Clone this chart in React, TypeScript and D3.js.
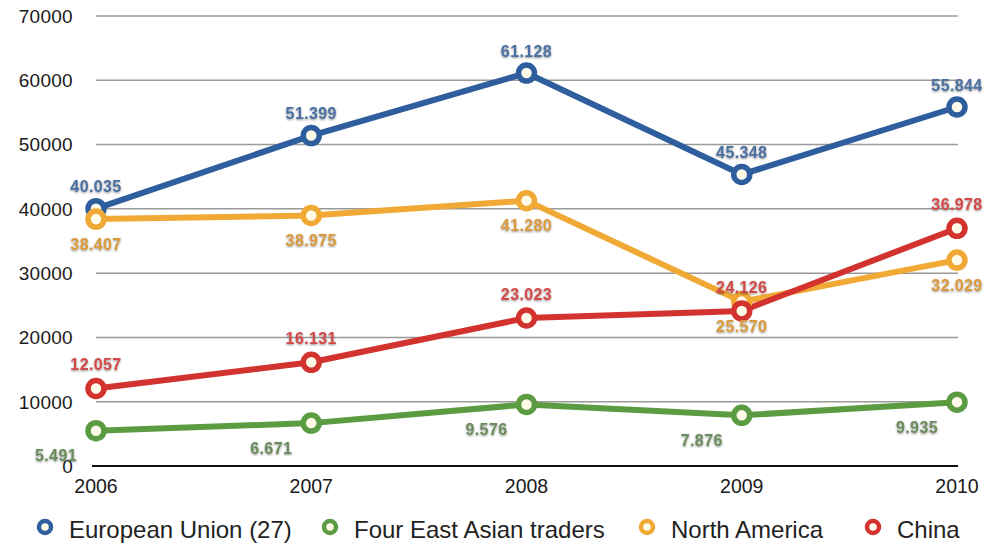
import React from "react";
import * as d3 from "d3";

const years = ["2006", "2007", "2008", "2009", "2010"];
const yTicks = [0, 10000, 20000, 30000, 40000, 50000, 60000, 70000];

const euValues = [40035, 51399, 61128, 45348, 55844];
const eastAsiaValues = [5491, 6671, 9576, 7876, 9935];
const northAmericaValues = [38407, 38975, 41280, 25570, 32029];
const chinaValues = [12057, 16131, 23023, 24126, 36978];

const seriesNames = ["European Union (27)", "Four East Asian traders", "North America", "China"];
const seriesColors = ["#2f5e9e", "#5b9c42", "#f0a935", "#d3332f"];
const labelColors = ["#4a6f9f", "#6a8c5c", "#d99a3c", "#d24a48"];
// label offsets (dx, dy) relative to each point
const labelOffsets: [number, number][] = [[0, -22], [-40, 25], [0, 25], [0, -24]];
const legendX = [45, 330, 647, 873];

const W = 985;
const H = 545;

export default function App() {
  const x = d3.scalePoint<string>().domain(years).range([96, 957]);
  const y = d3.scaleLinear().domain([0, 70000]).range([466, 16]);
  const fmt = d3.formatLocale({ decimal: ",", thousands: ".", grouping: [3], currency: ["", ""] }).format(",d");

  const allValues = [euValues, eastAsiaValues, northAmericaValues, chinaValues];
  const line = d3
    .line<number>()
    .x((_, i) => x(years[i]) as number)
    .y((d) => y(d));

  const font = "'Liberation Sans', Arial, Helvetica, sans-serif";

  return (
    <svg width={W} height={H} style={{ position: "absolute", left: 0, top: 0, background: "#fff" }} fontFamily={font}>
      <defs>
        <filter id="lblShadow" x="-20%" y="-40%" width="140%" height="180%">
          <feDropShadow dx="0" dy="1" stdDeviation="1" floodColor="#000" floodOpacity="0.45" />
        </filter>
        <filter id="soft" x="-50%" y="-50%" width="200%" height="200%">
          <feGaussianBlur stdDeviation="0.4" />
        </filter>
      </defs>
      {/* gridlines */}
      {yTicks.map((t) => (
        <line
          key={t}
          x1={t === 0 ? 92 : 96}
          x2={958}
          y1={y(t)}
          y2={y(t)}
          stroke={t === 0 ? "#111" : "#9a9a9a"}
          strokeWidth={t === 0 ? 2 : 1.5}
        />
      ))}
      {/* y tick labels */}
      {yTicks.map((t) => (
        <text key={t} x={73} y={y(t)} dy="0.36em" textAnchor="end" fontSize={19} fill="#1a1a1a" letterSpacing={0.3}>
          {t}
        </text>
      ))}
      {/* x labels */}
      {years.map((yr) => (
        <text key={yr} x={x(yr)} y={493} textAnchor="middle" fontSize={19.5} fill="#1a1a1a">
          {yr}
        </text>
      ))}
      {/* lines */}
      {allValues.map((vals, si) => (
        <path
          key={si}
          d={line(vals) as string}
          fill="none"
          stroke={seriesColors[si]}
          strokeWidth={6}
          strokeLinejoin="round"
          strokeLinecap="round"
        />
      ))}
      {/* markers */}
      {allValues.map((vals, si) =>
        vals.map((v, i) => (
          <circle
            key={si + "-" + i}
            cx={x(years[i])}
            cy={y(v)}
            r={8}
            fill="#fffbe8"
            stroke={seriesColors[si]}
            strokeWidth={5.5}
          />
        ))
      )}
      {/* data labels */}
      {allValues.map((vals, si) =>
        vals.map((v, i) => (
          <text
            key={"l" + si + "-" + i}
            x={(x(years[i]) as number) + labelOffsets[si][0]}
            y={y(v) + labelOffsets[si][1]}
            dy="0.36em"
            textAnchor="middle"
            fontSize={16}
            fontWeight="bold"
            letterSpacing={0.4}
            fill={labelColors[si]}
            filter="url(#lblShadow)"
          >
            {fmt(v)}
          </text>
        ))
      )}
      {/* legend */}
      {seriesNames.map((name, si) => (
        <g key={name}>
          <circle cx={legendX[si]} cy={527} r={6} fill="#fffbe8" stroke={seriesColors[si]} strokeWidth={4.5} filter="url(#soft)" />
          <text x={legendX[si] + 24} y={538} fontSize={24} fill="#222">
            {name}
          </text>
        </g>
      ))}
    </svg>
  );
}
